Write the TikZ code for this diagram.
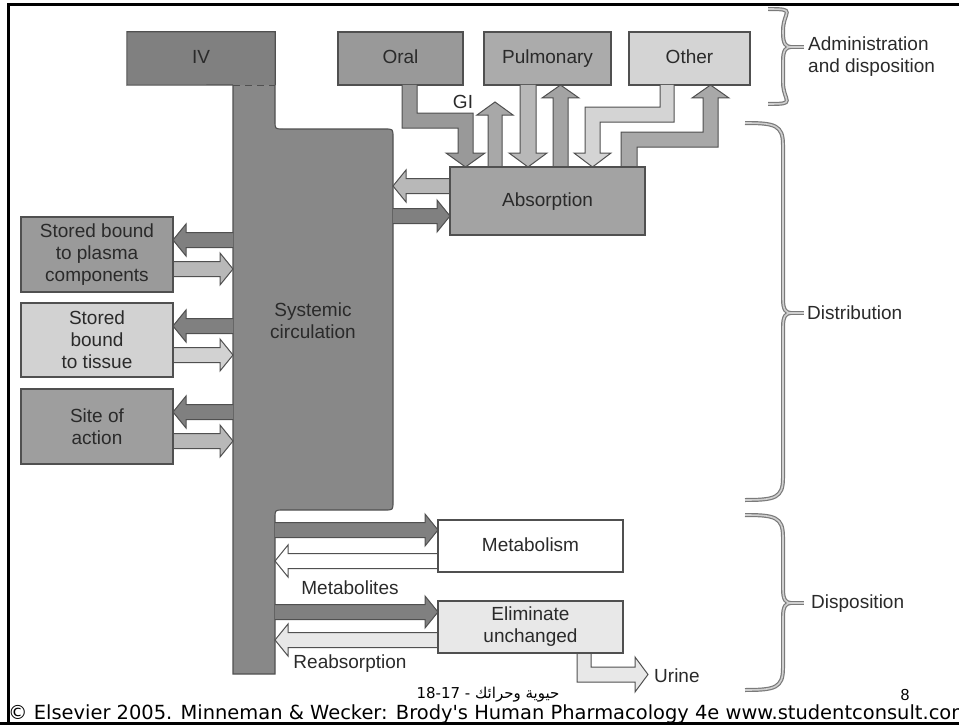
\documentclass[tikz,border=0pt]{standalone}
\usepackage{fontspec}
\setmainfont{Liberation Sans}
\newfontfamily\dejavu{DejaVu Sans}
\newfontfamily\arabicfont[Script=Arabic]{DejaVu Sans}
\TeXXeTstate=1
\definecolor{lineg}{HTML}{505050}
\definecolor{txt}{HTML}{2A2A2A}
\definecolor{cIV}{HTML}{808080}
\definecolor{cSys}{HTML}{888888}
\definecolor{cOral}{HTML}{999999}
\definecolor{cPul}{HTML}{ABABAB}
\definecolor{cOther}{HTML}{D4D4D4}
\definecolor{cAbs}{HTML}{A3A3A3}
\definecolor{cPlasma}{HTML}{9A9A9A}
\definecolor{cTissue}{HTML}{D2D2D2}
\definecolor{cSite}{HTML}{9E9E9E}
\definecolor{cElim}{HTML}{E8E8E8}
\definecolor{aDark}{HTML}{808080}
\definecolor{aMid}{HTML}{A8A8A8}
\definecolor{aLight}{HTML}{B8B8B8}
\definecolor{aPale}{HTML}{D2D2D2}
\definecolor{braceout}{HTML}{7A7A7A}
\definecolor{bracein}{HTML}{CFCFCF}
\tikzset{
  lab/.style={font=\fontsize{19}{22}\selectfont, text=txt},
  box/.style={lab, draw=lineg, line width=1.1pt, inner sep=0pt, align=center},
  oneline/.style={text height=14pt, text depth=4pt},
  blk/.style={draw=lineg, line width=1pt, line join=miter},
  edge/.style={draw=lineg, line width=1.1pt},
  braceo/.style={draw=braceout, line width=4pt},
  bracei/.style={draw=bracein, line width=1.6pt},
  side/.style={lab, anchor=west, align=left, inner sep=0pt},
}
\newcommand{\arrR}[4]{\draw[blk,fill=#1] (#2,#4-7.5) -- (#3-13,#4-7.5) -- (#3-13,#4-16) -- (#3,#4) -- (#3-13,#4+16) -- (#3-13,#4+7.5) -- (#2,#4+7.5);}
\newcommand{\arrL}[4]{\draw[blk,fill=#1] (#2,#4-7.5) -- (#3+13,#4-7.5) -- (#3+13,#4-16) -- (#3,#4) -- (#3+13,#4+16) -- (#3+13,#4+7.5) -- (#2,#4+7.5);}
\newcommand{\mybrace}[5]{% x0, ytop, ybot, ymid, style
  \draw[#5] (#1,#2) .. controls (#1+30,#2) and (783,#2+2) .. (783,#2+22) -- (783,#4-14) .. controls (783,#4-3) and (786,#4) .. (791,#4) .. controls (786,#4) and (783,#4+3) .. (783,#4+14) -- (783,#3-22) .. controls (783,#3-2) and (#1+30,#3) .. (#1,#3);
  \draw[#5] (791,#4) -- (804,#4);}
\begin{document}
\begin{tikzpicture}[x=1pt,y=-1pt]
\useasboundingbox (0,0) rectangle (959,725);
\clip (0,0) rectangle (959,725);

% systemic circulation shape
\fill[cSys] (233,85) -- (233,674) -- (275,674) -- (275,518) .. controls (275,510) .. (283,510) -- (385,510) .. controls (393,510) .. (393,502) -- (393,137) .. controls (393,129) .. (385,129) -- (283,129) .. controls (275,129) .. (275,121) -- (275,85) -- cycle;
\draw[edge] (275,85) -- (275,121) .. controls (275,129) .. (283,129) -- (385,129) .. controls (393,129) .. (393,137) -- (393,502) .. controls (393,510) .. (385,510) -- (283,510) .. controls (275,510) .. (275,518) -- (275,674) -- (233,674) -- (233,85);
\draw[edge, dash pattern=on 7pt off 5pt] (233,85) -- (275,85);
\node[lab, align=center] (sys) at (313,321) {Systemic\\circulation};

% IV box
\node[lab, oneline, fill=cIV, minimum width=148pt, minimum height=53pt, inner sep=0pt] (iv) at (201,58.5) {IV};
\draw[edge] (233,85) -- (iv.south west) -- (iv.north west) -- (iv.north east) -- (iv.south east);

% administration boxes
\node[box, oneline, fill=cOral, minimum width=125pt, minimum height=53pt] (oral) at (400.5,58.5) {Oral};
\node[box, oneline, fill=cPul, minimum width=127pt, minimum height=53pt] (pulm) at (547.5,58.5) {Pulmonary};
\node[box, oneline, fill=cOther, minimum width=121pt, minimum height=53pt] (other) at (689.5,58.5) {Other};

% vertical block arrows
\draw[blk, fill=cOral] (402,85) -- (402,128) -- (458,128) -- (458,153) -- (446,153) -- (465.5,167) -- (485,153) -- (473,153) -- (473,113) -- (417,113) -- (417,85);
\draw[blk, fill=aMid] (488,167) -- (488,115) -- (477,115) -- (495,102) -- (513,115) -- (502,115) -- (502,167);
\draw[blk, fill=aLight] (520,85) -- (520,153) -- (509,153) -- (528,167) -- (547,153) -- (536,153) -- (536,85);
\draw[blk, fill=cAbs] (553,167) -- (553,98) -- (542,98) -- (560.5,85) -- (579,98) -- (568,98) -- (568,167);
\draw[blk, fill=cOther] (674,85) -- (674,122) -- (600,122) -- (600,153) -- (611,153) -- (592.5,167) -- (574,153) -- (585,153) -- (585,107) -- (660,107) -- (660,85);
\draw[blk, fill=aMid] (621,167) -- (621,132) -- (703,132) -- (703,98) -- (692,98) -- (710.5,85) -- (729,98) -- (718,98) -- (718,147) -- (637,147) -- (637,167);
\node[lab] (gi) at (463,102) {GI};

% absorption
\arrL{aLight}{450}{393}{186}
\arrR{aDark}{393}{450}{216}
\node[box, oneline, fill=cAbs, minimum width=195pt, minimum height=68pt] (abs) at (547.5,201) {Absorption};

% left boxes
\arrL{aDark}{233}{173}{240}
\arrR{aLight}{173}{233}{269}
\arrL{aDark}{233}{173}{326}
\arrR{aPale}{173}{233}{355}
\arrL{aDark}{233}{173}{412}
\arrR{aLight}{173}{233}{441}
\node[box, fill=cPlasma, minimum width=152pt, minimum height=75pt] (plasma) at (97,254.5) {Stored bound\\to plasma\\components};
\node[box, fill=cTissue, minimum width=152pt, minimum height=74pt] (tissue) at (97,340) {Stored\\bound\\to tissue};
\node[box, fill=cSite, minimum width=152pt, minimum height=75pt] (site) at (97,426.5) {Site of\\action};

% disposition
\arrR{aDark}{275}{438}{530}
\arrL{white}{438}{275}{561}
\arrR{aDark}{275}{438}{612}
\arrL{cElim}{438}{275}{640}
\draw[blk, fill=cElim] (577,653) -- (577,682) -- (635,682) -- (635,692) -- (648,674.5) -- (635,657) -- (635,667) -- (591,667) -- (591,653);
\node[box, oneline, fill=white, minimum width=185pt, minimum height=52pt] (metab) at (530.5,546) {Metabolism};
\node[box, fill=cElim, minimum width=185pt, minimum height=52pt] (elim) at (530.5,627) {Eliminate\\unchanged};
\node[lab] (metl) at (350,588) {Metabolites};
\node[lab] (reab) at (350,664) {Reabsorption};
\node[side] (urine) at (654,676) {Urine};

% braces
\mybrace{768}{9}{104}{47}{braceo}
\mybrace{768}{9}{104}{47}{bracei}
\mybrace{745}{123}{500}{313}{braceo}
\mybrace{745}{123}{500}{313}{bracei}
\mybrace{745}{515}{690}{603}{braceo}
\mybrace{745}{515}{690}{603}{bracei}
\node[side] (adm) at (808,57) {Administration\\and disposition};
\node[side] (dist) at (807,313) {Distribution};
\node[side] (disp) at (811,604) {Disposition};

% footer
\node[inner sep=0pt, font=\fontsize{15}{17}\selectfont] (ar) at (488,695) {\arabicfont\beginR حيوية وحرائك - \beginL 18-17\endL\endR};
\node[inner sep=0pt, font=\fontsize{16}{18}\selectfont] (pg) at (905,695) {8};
\node[inner sep=0pt, anchor=base west] (cr) at (8,719) {\resizebox{962pt}{!}{\dejavu\fontsize{16}{18}\selectfont\underline{© Elsevier 2005. Minneman \& Wecker: Brody's Human Pharmacology 4e www.studentconsult.com}}};

% frame
\draw[line width=3pt] (8,725) -- (8,5) -- (959,5);
\draw[line width=3pt] (0,723.5) -- (959,723.5);
\end{tikzpicture}
\end{document}
